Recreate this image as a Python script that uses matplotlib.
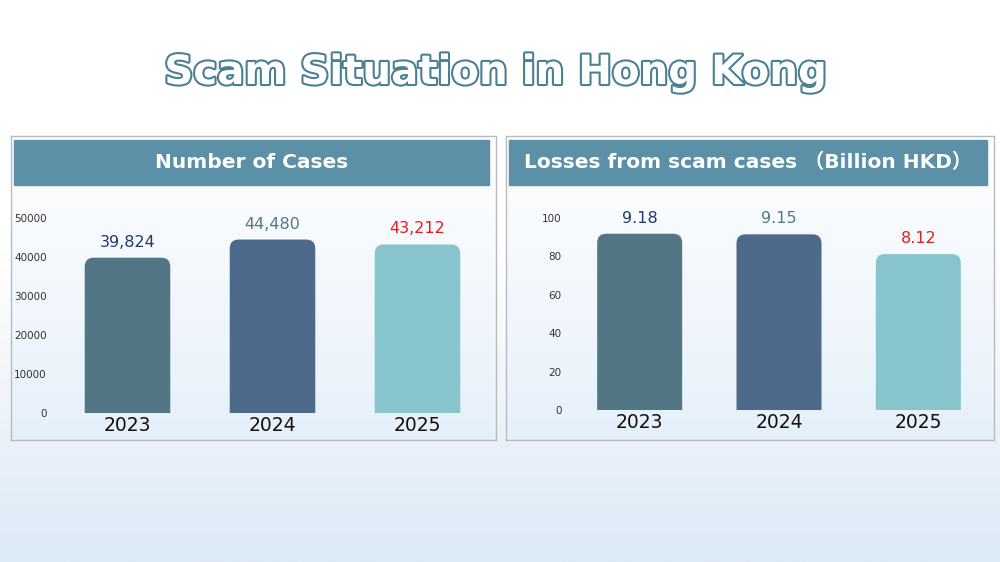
import numpy as np
import matplotlib
matplotlib.use("Agg")
import matplotlib.pyplot as plt
from matplotlib.patches import FancyBboxPatch, Rectangle
import matplotlib.patheffects as pe

years = ["2023", "2024", "2025"]
cases = [39824, 44480, 43212]
case_labels = ["39,824", "44,480", "43,212"]
losses = [9.18, 9.15, 8.12]
loss_labels = ["9.18", "9.15", "8.12"]
bar_colors = ["#537684", "#4d6a8a", "#88c4cb"]
label_colors = ["#1f3a6e", "#4d7a87", "#e81c1c"]

W, H = 1000, 562
fig = plt.figure(figsize=(10, 5.62), dpi=100)

def fx(x): return x / W
def fy(y): return 1 - y / H

bg = fig.add_axes([0, 0, 1, 1], zorder=-10)
g = np.linspace(0, 1, 256)[:, None]
c_top = np.array([1, 1, 1]); c_bot = np.array([0xdc, 0xe9, 0xf6]) / 255
t = np.clip((g - 0.45) / 0.55, 0, 1)
img = c_top * (1 - t[..., None]) + c_bot * t[..., None]
bg.imshow(np.repeat(img, 2, axis=1), aspect="auto", extent=[0, 1, 0, 1])
bg.set_xlim(0, 1); bg.set_ylim(0, 1); bg.axis("off")

fig.text(0.495, fy(73), "Scam Situation in Hong Kong", ha="center", va="center",
         fontsize=29, fontweight="bold", family="DejaVu Sans", color="white",
         path_effects=[pe.Stroke(linewidth=3, foreground="#4a7f94"), pe.Normal()])

def panel(x0, x1, y0, y1, title):
    pa = fig.add_axes([fx(x0), fy(y1), fx(x1 - x0), (y1 - y0) / H], zorder=-5)
    gg = np.linspace(0, 1, 128)[:, None]
    im = np.array([1, 1, 1]) * (1 - gg[..., None]) + np.array([0xe6, 0xf0, 0xfa]) / 255 * gg[..., None]
    pa.imshow(np.repeat(im, 2, axis=1), aspect="auto", extent=[0, 1, 0, 1])
    pa.set_xlim(0, 1); pa.set_ylim(0, 1)
    pa.set_xticks([]); pa.set_yticks([])
    for s in pa.spines.values():
        s.set_color("#b8bcc0"); s.set_linewidth(1)
    hx0, hx1 = (3 / (x1 - x0)), 1 - (7 / (x1 - x0))
    hy0, hy1 = 1 - (49 / (y1 - y0)), 1 - (4 / (y1 - y0))
    pa.add_patch(Rectangle((hx0, hy0), hx1 - hx0, hy1 - hy0, color="#5b90a6"))
    pa.text((hx0 + hx1) / 2, (hy0 + hy1) / 2, title, ha="center", va="center",
            color="white", fontsize=14.5, fontweight="bold",
            family=["DejaVu Sans", "Noto Sans CJK SC"])

panel(11, 496, 136, 440, "Number of Cases")
panel(506, 994, 136, 440, "Losses from scam cases \uff08Billion HKD\uff09")

def bars(ax_rect, vals, labels, ymax, ticks, width_frac, scale):
    ax = fig.add_axes(ax_rect, zorder=1)
    ax.set_xlim(-0.5, 2.5); ax.set_ylim(0, ymax)
    ax.patch.set_alpha(0)
    bb = ax_rect
    px_x = 3 / (bb[2] * W)
    px_y = ymax / (bb[3] * H)
    for i, v in enumerate(vals):
        h = v * scale
        p = FancyBboxPatch((i - width_frac / 2, -ymax * 0.1), width_frac, h + ymax * 0.1,
                           boxstyle="round,pad=0,rounding_size=%f" % (9 * px_x),
                           mutation_aspect=px_y / px_x, fc=bar_colors[i], ec="none")
        ax.add_patch(p)
        ax.text(i, h + 8 * px_y, labels[i], ha="center", va="bottom",
                color=label_colors[i], fontsize=11.5)
    ax.set_yticks(ticks)
    ax.set_yticklabels([str(t) for t in ticks], fontsize=7.5, color="#333333")
    ax.set_xticks(range(3))
    ax.set_xticklabels(years, fontsize=13.5, color="#111111")
    ax.tick_params(length=0, axis="y", pad=6)
    ax.tick_params(length=0, axis="x", pad=2)
    for s in ax.spines.values():
        s.set_visible(False)
    return ax

bars([fx(55), fy(413), fx(435), (413 - 218) / H], cases, case_labels, 50000,
     [0, 10000, 20000, 30000, 40000, 50000], 0.59, 1)
bars([fx(570), fy(410), fx(418), (410 - 218) / H], losses, loss_labels, 100,
     [0, 20, 40, 60, 80, 100], 0.61, 10)

fig.savefig("out.png", dpi=100)
